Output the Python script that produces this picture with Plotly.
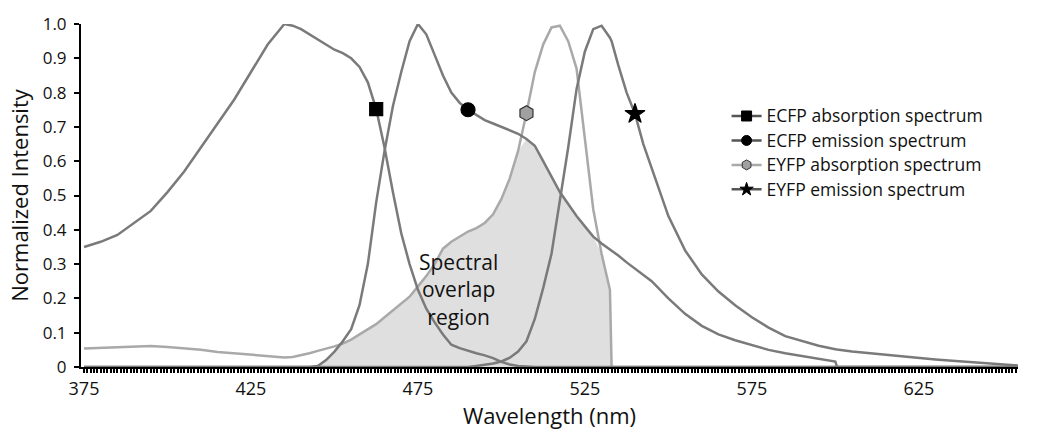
import numpy as np
import plotly.graph_objects as go

# Shared wavelength column (nm)
wavelength = [375, 380, 385, 390, 395, 400, 405, 410, 415, 420, 425, 430, 435,
              437.5, 440, 442.5, 445, 447.5, 450, 452.5, 455, 457.5, 460, 462.5, 465, 467.5,
              470, 472.5, 475, 477.5, 480, 482.5, 485, 487.5, 490, 492.5, 495, 497.5, 500,
              502.5, 505, 507.5,
              510, 512.5, 515, 517.5, 520, 522.5, 525, 527.5, 530, 532.5, 533, 535, 537.5,
              540, 542.5, 545,
              550, 555, 560, 565, 570, 575, 580, 585, 590, 595, 600, 600.5, 605, 610, 615,
              620, 625, 630, 635, 640, 645, 650, 655]

ecfp_abs = [0.35, 0.365, 0.385, 0.42, 0.455, 0.51, 0.57, 0.64, 0.71, 0.78, 0.86, 0.94, 1.0,
            0.995, 0.985, 0.97, 0.955, 0.94, 0.925, 0.915, 0.90, 0.875, 0.83, 0.752, 0.64, 0.51,
            0.39, 0.30, 0.225, 0.17, 0.13, 0.095, 0.065, 0.055, 0.047, 0.04, 0.034, 0.026, 0.015,
            0.007, 0.003, 0.001,
            0, 0, 0, 0, 0, 0, 0, 0, 0, 0, 0, 0, 0, 0, 0, 0,
            0, 0, 0, 0, 0, 0, 0, 0, 0, 0, 0, 0, 0, 0, 0, 0, 0, 0, 0, 0, 0, 0, 0]

ecfp_em = [0, 0, 0, 0, 0, 0, 0, 0, 0, 0, 0, 0, 0,
           0, 0, 0, 0.003, 0.02, 0.045, 0.075, 0.11, 0.18, 0.30, 0.48, 0.63, 0.76,
           0.86, 0.95, 1.0, 0.97, 0.91, 0.85, 0.80, 0.77, 0.75, 0.735, 0.72, 0.71, 0.70,
           0.69, 0.68, 0.665,
           0.645, 0.60, 0.555, 0.51, 0.475, 0.44, 0.41, 0.38, 0.36, 0.343, 0.34, 0.325, 0.305,
           0.287, 0.27, 0.25,
           0.20, 0.155, 0.12, 0.095, 0.078, 0.063, 0.05, 0.04, 0.032, 0.024, 0.016, 0, 0, 0, 0,
           0, 0, 0, 0, 0, 0, 0, 0]

eyfp_abs = [0.054, 0.056, 0.058, 0.061, 0.061, 0.058, 0.055, 0.050, 0.044, 0.040, 0.034, 0.030, 0.028,
            0.029, 0.034, 0.040, 0.047, 0.053, 0.060, 0.068, 0.080, 0.095, 0.11, 0.125, 0.145, 0.165,
            0.185, 0.205, 0.235, 0.265, 0.30, 0.345, 0.365, 0.38, 0.395, 0.405, 0.42, 0.445, 0.49,
            0.55, 0.63, 0.74,
            0.86, 0.94, 0.99, 0.995, 0.95, 0.87, 0.67, 0.46, 0.33, 0.225, 0, 0, 0,
            0, 0, 0,
            0, 0, 0, 0, 0, 0, 0, 0, 0, 0, 0, 0, 0, 0, 0, 0, 0, 0, 0, 0, 0, 0, 0]

eyfp_em = [0, 0, 0, 0, 0, 0, 0, 0, 0, 0, 0, 0, 0,
           0, 0, 0, 0, 0, 0, 0, 0, 0, 0, 0, 0, 0,
           0, 0, 0, 0, 0, 0, 0, 0, 0, 0.003, 0.006, 0.01, 0.016,
           0.027, 0.045, 0.075,
           0.14, 0.23, 0.33, 0.48, 0.64, 0.81, 0.92, 0.985, 0.995, 0.96, 0.95, 0.88, 0.80,
           0.738, 0.65, 0.58,
           0.44, 0.34, 0.27, 0.22, 0.18, 0.145, 0.115, 0.09, 0.075, 0.062, 0.052, 0.051, 0.045,
           0.04, 0.035, 0.03, 0.026, 0.022, 0.018, 0.015, 0.012, 0.008, 0.004]

series_names = ["ECFP absorption spectrum", "ECFP emission spectrum",
                "EYFP absorption spectrum", "EYFP emission spectrum"]
marker_wavelengths = [462.5, 490, 507.5, 540]

x_tick_vals = [375, 425, 475, 525, 575, 625]
y_tick_vals = [0, 0.1, 0.2, 0.3, 0.4, 0.5, 0.6, 0.7, 0.8, 0.9, 1.0]
y_tick_text = ["0", "0.1", "0.2", "0.3", "0.4", "0.5", "0.6", "0.7", "0.8", "0.9", "1.0"]

wl = np.array(wavelength)
data = [np.array(ecfp_abs), np.array(ecfp_em), np.array(eyfp_abs), np.array(eyfp_em)]
overlap = np.minimum(data[1], data[2])

DARK = "#7a7a7a"
LIGHT = "#a9a9a9"
colors = [DARK, DARK, LIGHT, DARK]
symbols = ["square", "circle", "hexagon", "star"]
mfill = ["#000000", "#000000", "#a0a0a0", "#000000"]
mline = ["#000000", "#000000", "#333333", "#000000"]
msize = [13, 14, 15, 15]
FONT = "Open Sans"
TXT = "#111111"

fig = go.Figure()
fig.add_trace(go.Scatter(x=wl, y=overlap, mode="lines", line=dict(width=0),
                         fill="tozeroy", fillcolor="#dfdfdf", showlegend=False,
                         hoverinfo="skip"))
order = [2, 0, 1, 3]
for i in order:
    fig.add_trace(go.Scatter(x=wl, y=data[i], mode="lines",
                             line=dict(color=colors[i], width=2.5),
                             showlegend=False))
for i in range(4):
    k = wavelength.index(marker_wavelengths[i])
    fig.add_trace(go.Scatter(x=[wl[k]], y=[data[i][k]], mode="markers",
                             marker=dict(symbol=symbols[i], size=msize[i], color=mfill[i],
                                         line=dict(color=mline[i], width=1.2)),
                             showlegend=False))
for i in range(4):
    fig.add_trace(go.Scatter(x=[None], y=[None], mode="lines+markers",
                             name='<span style="font-size:17.5px">' + series_names[i] + '</span>',
                             line=dict(color="#555555" if i != 2 else LIGHT, width=2.5),
                             marker=dict(symbol=symbols[i], size=10, color=mfill[i],
                                         line=dict(color=mline[i], width=1))))

fig.add_annotation(x=487, y=0.225, xref="x", yref="y",
                   text="Spectral<br>overlap<br>region", showarrow=False,
                   font=dict(family=FONT, size=21, color=TXT), align="center")

fig.update_layout(
    width=1039, height=432,
    margin=dict(l=81, r=21, t=12, b=65),
    paper_bgcolor="white", plot_bgcolor="white",
    font=dict(family=FONT, size=17, color=TXT),
    showlegend=True,
    legend=dict(x=0.689, y=0.782, xanchor="left", yanchor="top",
                bgcolor="rgba(0,0,0,0)", font=dict(family=FONT, size=16.5, color=TXT),
                itemwidth=30, tracegroupgap=0),
    xaxis=dict(range=[374.1, 654.7], tickmode="array", tickvals=x_tick_vals,
               showgrid=False, zeroline=False, showline=True, linecolor="black", linewidth=2,
               ticks="outside", ticklen=4, tickwidth=2, tickcolor="black",
               ticklabelstandoff=0,
               tickfont=dict(family=FONT, size=18, color=TXT),
               minor=dict(ticks="outside", ticklen=4, tickwidth=1.5, tickcolor="black",
                          tickmode="linear", tick0=375, dtick=1, showgrid=False),
               title=dict(text="Wavelength (nm)", standoff=4,
                          font=dict(family=FONT, size=22, color=TXT))),
    yaxis=dict(range=[0, 1.0], tickmode="array", tickvals=y_tick_vals, ticktext=y_tick_text,
               showgrid=False, zeroline=False, showline=True, linecolor="black", linewidth=2,
               ticks="outside", ticklen=5, tickwidth=2, tickcolor="black",
               ticklabelstandoff=4, ticklabeloverflow="allow",
               tickfont=dict(family=FONT, size=17, color=TXT),
               title=dict(text="Normalized Intensity", standoff=8,
                          font=dict(family=FONT, size=22, color=TXT))),
)

fig.write_html("out.html")
